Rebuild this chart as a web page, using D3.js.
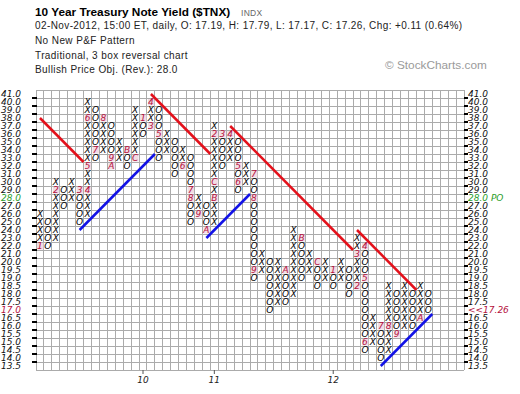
<!DOCTYPE html>
<html>
<head>
<meta charset="utf-8">
<script src="https://cdn.jsdelivr.net/npm/d3@7/dist/d3.min.js"></script>
<style>
    body { margin: 0; background: #fff; }
    .chart text { font-family: "DejaVu Sans", Verdana, sans-serif; }
    .chart .head { font-family: "Liberation Sans", Arial, sans-serif; }
</style>
</head>
<body>
<div class="chart"></div>
<script>
// price rows (box values), top to bottom
var rowLabels = [41, 40, 39, 38, 37, 36, 35, 34, 33, 32, 31, 30, 29, 28, 27, 26, 25, 24, 23, 22, 21, 20,
    19.5, 19, 18.5, 18, 17.5, 17, 16.5, 16, 15.5, 15, 14.5, 14, 13.5];

// one entry per P&F column
var colTypes = "XOXOXOXOXOXOXOXOXOXOXOXOXOXOXOXOXOXOXOXOXOXOXOXOXO".split("");
var colLows = [22, 22, 23, 27, 28, 25, 26, 33, 34, 32, 33, 32, 33, 36, 37, 33, 34, 31, 32, 25,
    26, 24, 25, 32, 33, 29, 30, 19, 19.5, 17, 17.5, 17.5, 18, 19, 19.5, 18.5, 19, 18.5, 19, 18,
    18.5, 14.5, 15, 14, 14.5, 15.5, 16, 16, 16.5, 17];
var colHighs = [26, 25, 30, 29, 30, 29, 40, 39, 38, 37, 35, 34, 39, 38, 40, 39, 36, 35, 34, 33,
    28, 27, 37, 36, 36, 35, 32, 31, 21, 20, 20, 19.5, 24, 23, 21, 20, 20, 19.5, 20, 19.5,
    23, 22, 16.5, 16, 18.5, 18, 18.5, 18, 18.5, 18];

// month markers: [column, box value, month code]
var monthMarks = [
    [0, 22, "1"], [2, 29, "2"], [5, 29, "3"], [6, 29, "4"], [6, 32, "5"], [6, 38, "6"],
    [7, 34, "7"], [8, 38, "8"], [9, 33, "9"], [9, 32, "A"], [11, 34, "B"], [12, 33, "C"],
    [13, 38, "1"], [14, 37, "3"], [14, 40, "4"], [15, 36, "5"], [18, 32, "6"], [19, 29, "7"],
    [19, 28, "8"], [20, 26, "9"], [21, 24, "A"], [22, 28, "B"], [22, 30, "C"],
    [22, 36, "2"], [23, 36, "3"], [24, 36, "4"], [25, 32, "5"], [25, 30, "6"], [27, 31, "7"],
    [27, 28, "8"], [27, 19.5, "9"], [31, 19.5, "A"], [33, 23, "B"], [35, 20, "C"],
    [37, 19.5, "1"], [40, 18.5, "2"], [40, 21, "3"], [41, 22, "4"], [41, 19, "5"], [41, 15, "6"],
    [43, 16, "7"], [44, 16, "8"], [45, 15.5, "9"], [48, 16.5, "A"]
];

// year labels under the grid: [column, label]
var yearLabels = [[13, "10"], [22, "11"], [37, "12"]];

// trend lines: [[col, value], [col, value]]
var redLines = [
    [[0, 38], [5.5, 32.5]],
    [[14, 41], [21.5, 33.5]],
    [[24, 37], [39.5, 21.5]],
    [[40, 24], [47.5, 18.25]]
];
var blueLines = [
    [[5, 24], [14.5, 33.5]],
    [[21, 23], [26.5, 28.5]],
    [[43, 13.5], [49.5, 16.75]]
];

var lastClose = "17.26";
var lastRow = 17;
var priceObjective = 28;

var headLines = [
    "02-Nov-2012, 15:00 ET, daily, O: 17.19, H: 17.79, L: 17.17, C: 17.26, Chg: +0.11 (0.64%)",
    "No New P&F Pattern",
    "Traditional, 3 box reversal chart",
    "Bullish Price Obj. (Rev.): 28.0"
];

function init() {
    var w = 520;
    var h = 394;
    var left = 36, right = 464, top = 90;
    var boxH = 8;
    var nCols = 54;
    var nRows = rowLabels.length;
    var bottom = top + nRows * boxH;

    var svg = d3.select(".chart")
        .append("svg")
        .attr("width", w)
        .attr("height", h);

    // header
    svg.append("text")
        .attr("class", "head")
        .attr("x", 35).attr("y", 16)
        .style("font-size", "11.8px").style("font-weight", "bold")
        .text("10 Year Treasury Note Yield ($TNX)");
    svg.append("text")
        .attr("class", "head")
        .attr("x", 241).attr("y", 16)
        .style("font-size", "8.5px").style("fill", "#666")
        .style("letter-spacing", "0.3px")
        .text("INDX");
    svg.selectAll(".sub")
        .data(headLines)
        .enter().append("text")
        .attr("class", "head sub")
        .attr("x", 35)
        .attr("y", function (d, i) { return [29, 44, 59, 73][i]; })
        .style("font-size", "10px").style("fill", "#222")
        .style("letter-spacing", "0.4px")
        .text(function (d) { return d; });
    svg.append("text")
        .attr("class", "head")
        .attr("x", 385).attr("y", 69)
        .style("font-size", "11.8px").style("fill", "#9a9a9a")
        .text("\u00a9 StockCharts.com");

    var xScale = d3.scaleLinear()
        .domain([0, nCols])
        .range([left, right]);
    var rowScale = d3.scaleLinear()
        .domain([0, nRows])
        .range([top, bottom]);
    var i20 = rowLabels.indexOf(20);
    var yScale = d3.scaleLinear()
        .domain([rowLabels[0], 20, rowLabels[nRows - 1]])
        .range([rowScale(0.5), rowScale(i20 + 0.5), rowScale(nRows - 0.5)]);

    function cx(c) { return xScale(c + 0.5); }

    // grid
    var grid = svg.append("g")
        .style("stroke", "#ababab")
        .style("stroke-width", 1)
        .style("shape-rendering", "crispEdges");
    grid.selectAll(".hl")
        .data(d3.range(nRows + 1))
        .enter().append("line")
        .attr("x1", left).attr("x2", right)
        .attr("y1", function (d) { return rowScale(d); })
        .attr("y2", function (d) { return rowScale(d); });
    grid.selectAll(".vl")
        .data(d3.range(nCols + 1))
        .enter().append("line")
        .attr("y1", top).attr("y2", bottom)
        .attr("x1", function (d) { return xScale(d); })
        .attr("x2", function (d) { return xScale(d); });

    // price axis ticks
    var ticks = svg.append("g")
        .style("stroke", "#000")
        .style("stroke-width", 1.5)
        .style("shape-rendering", "crispEdges");
    ticks.selectAll(".lt")
        .data(d3.range(1, nRows))
        .enter().append("line")
        .attr("x1", left - 4).attr("x2", left + 1)
        .attr("y1", function (d) { return rowScale(d); })
        .attr("y2", function (d) { return rowScale(d); });
    ticks.selectAll(".rt")
        .data(d3.range(1, nRows))
        .enter().append("line")
        .attr("x1", right).attr("x2", right + 4)
        .attr("y1", function (d) { return rowScale(d); })
        .attr("y2", function (d) { return rowScale(d); });

    function labelColor(v) {
        if (v === priceObjective) return "#2a9d2a";
        if (v === lastRow) return "#b5123e";
        return "#111";
    }

    svg.selectAll(".ll")
        .data(rowLabels)
        .enter().append("text")
        .attr("x", 1)
        .attr("y", function (d) { return yScale(d); })
        .attr("dy", "0.36em")
        .style("font-size", "9px").style("font-style", "italic")
        .style("fill", labelColor)
        .text(function (d) { return d.toFixed(1); });

    svg.selectAll(".rl")
        .data(rowLabels)
        .enter().append("text")
        .attr("x", right + 4)
        .attr("y", function (d) { return yScale(d); })
        .attr("dy", "0.36em")
        .style("font-size", "9px").style("font-style", "italic")
        .style("fill", labelColor)
        .text(function (d) {
            if (d === priceObjective) return d.toFixed(1) + " PO";
            if (d === lastRow) return "<<" + lastClose;
            return d.toFixed(1);
        });

    // year ticks / labels
    svg.selectAll(".yt")
        .data(yearLabels)
        .enter().append("line")
        .attr("x1", function (d) { return cx(d[0]); })
        .attr("x2", function (d) { return cx(d[0]); })
        .attr("y1", bottom).attr("y2", bottom + 4)
        .style("stroke", "#555");
    svg.selectAll(".yl")
        .data(yearLabels)
        .enter().append("text")
        .attr("x", function (d) { return cx(d[0]); })
        .attr("y", bottom + 13)
        .attr("text-anchor", "middle")
        .style("font-size", "9px").style("font-style", "italic")
        .style("fill", "#222")
        .text(function (d) { return d[1]; });

    // boxes
    var boxes = [];
    colTypes.forEach(function (t, c) {
        rowLabels.forEach(function (v) {
            if (v >= colLows[c] && v <= colHighs[c]) {
                var m = monthMarks.filter(function (mm) { return mm[0] === c && mm[1] === v; });
                boxes.push({ col: c, val: v, text: m.length ? m[0][2] : t, month: m.length > 0 });
            }
        });
    });

    svg.selectAll(".mb")
        .data(boxes.filter(function (d) { return d.month; }))
        .enter().append("rect")
        .attr("x", function (d) { return xScale(d.col) + 1; })
        .attr("y", function (d) { return yScale(d.val) - boxH / 2 + 1; })
        .attr("width", xScale(1) - xScale(0) - 1.5)
        .attr("height", boxH - 1.5)
        .style("fill", "#f2dce4");

    svg.selectAll(".bx")
        .data(boxes)
        .enter().append("text")
        .attr("x", function (d) { return cx(d.col); })
        .attr("y", function (d) { return yScale(d.val); })
        .attr("dy", "0.36em")
        .attr("text-anchor", "middle")
        .style("font-size", "9px").style("font-style", "italic")
        .style("fill", function (d) { return d.month ? "#b5123e" : "#000"; })
        .text(function (d) { return d.text; });

    // trend lines
    var line = d3.line()
        .x(function (d) { return cx(d[0]); })
        .y(function (d) { return yScale(d[1]); });

    svg.selectAll(".red")
        .data(redLines)
        .enter().append("path")
        .attr("d", line)
        .style("stroke", "#e3111b")
        .style("stroke-width", 2.5)
        .style("fill", "none");

    svg.selectAll(".blue")
        .data(blueLines)
        .enter().append("path")
        .attr("d", line)
        .style("stroke", "#1212e6")
        .style("stroke-width", 2.5)
        .style("fill", "none");
}

init()
</script>
</body>
</html>
